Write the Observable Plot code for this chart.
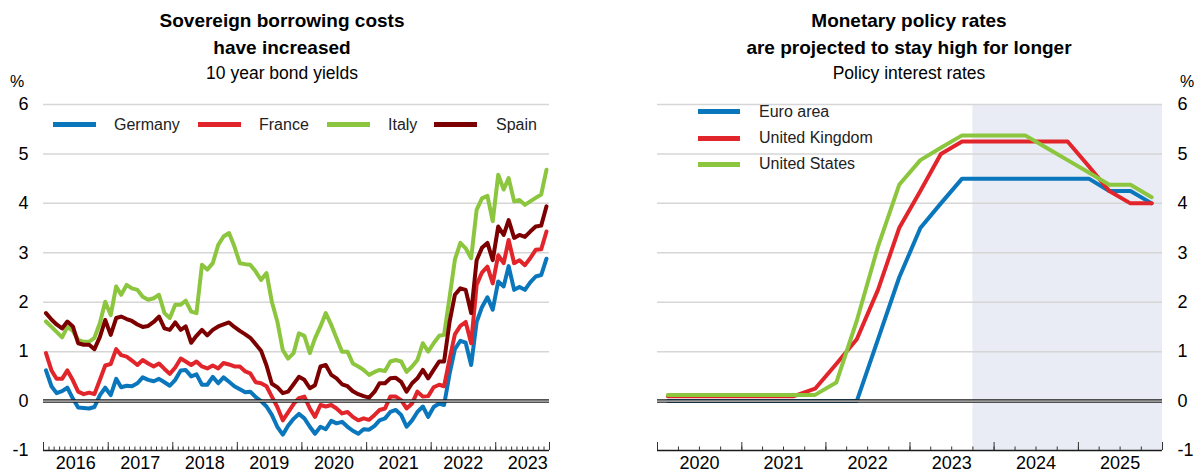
<!DOCTYPE html>
<html><head><meta charset="utf-8">
<script src="https://cdn.jsdelivr.net/npm/d3@7"></script>
<script src="https://cdn.jsdelivr.net/npm/@observablehq/plot@0.6"></script>
<style>
body{margin:0;background:#fff;font-family:"Liberation Sans",Arial,sans-serif;color:#000;}
#wrap{position:relative;width:1195px;height:472px;overflow:hidden;}
.t{position:absolute;text-align:center;white-space:nowrap;}
.title{font-weight:bold;font-size:19px;line-height:24px;}
.sub{font-size:17.5px;line-height:22px;}
.pct{position:absolute;font-size:16px;line-height:16px;}
.chart{position:absolute;top:90px;}
.lg{position:absolute;font-size:16px;line-height:18px;color:#222;white-space:nowrap;}
.sw{position:absolute;height:5px;width:43px;}
</style></head>
<body>
<div id="wrap">
  <div class="t title" style="left:0;width:564px;top:9px;">Sovereign borrowing costs</div>
  <div class="t title" style="left:0;width:564px;top:36px;">have increased</div>
  <div class="t sub" style="left:0;width:564px;top:62px;">10 year bond yields</div>
  <div class="pct" style="left:10px;top:74px;">%</div>

  <div class="t title" style="left:620px;width:578px;top:9px;">Monetary policy rates</div>
  <div class="t title" style="left:620px;width:578px;top:36px;">are projected to stay high for longer</div>
  <div class="t sub" style="left:620px;width:578px;top:62px;">Policy interest rates</div>
  <div class="pct" style="left:1180px;top:74px;">%</div>

  <div id="left" class="chart" style="left:0;"></div>
  <div id="right" class="chart" style="left:597px;"></div>
  <div id="legL"></div>
  <div id="legR"></div>
</div>
<script>
// ---------- Left chart data: 10 year bond yields, monthly Jan 2016 - Oct 2023 ----------
const bondSeries = ["Germany", "France", "Italy", "Spain"];
const bondColors = ["#0a76bc", "#e2242b", "#8cc63f", "#7d0000"];
const germany = [0.62,0.30,0.16,0.20,0.27,0.05,-0.13,-0.14,-0.15,-0.12,0.12,0.27,
  0.12,0.45,0.28,0.31,0.30,0.36,0.48,0.43,0.40,0.45,0.38,0.31,
  0.43,0.62,0.63,0.50,0.54,0.33,0.33,0.49,0.36,0.48,0.39,0.30,
  0.24,0.18,0.19,0.08,0.00,-0.11,-0.28,-0.52,-0.68,-0.50,-0.36,-0.26,
  -0.35,-0.52,-0.66,-0.52,-0.57,-0.40,-0.45,-0.42,-0.52,-0.60,-0.66,-0.57,
  -0.58,-0.50,-0.39,-0.35,-0.22,-0.18,-0.28,-0.52,-0.39,-0.22,-0.11,-0.32,
  -0.12,-0.05,-0.08,0.55,1.05,1.22,1.18,0.73,1.60,1.90,2.10,1.85,
  2.42,2.32,2.73,2.25,2.31,2.25,2.40,2.52,2.55,2.88];
const france = [0.97,0.62,0.45,0.45,0.62,0.42,0.19,0.14,0.17,0.14,0.43,0.72,
  0.75,1.05,0.93,0.90,0.82,0.73,0.83,0.76,0.70,0.76,0.65,0.55,
  0.68,0.86,0.80,0.73,0.80,0.70,0.66,0.72,0.66,0.77,0.74,0.70,
  0.70,0.60,0.56,0.38,0.36,0.30,0.09,-0.12,-0.39,-0.23,-0.06,0.06,
  0.09,-0.15,-0.32,-0.08,-0.11,-0.08,-0.15,-0.25,-0.22,-0.32,-0.39,-0.35,
  -0.38,-0.28,-0.18,-0.15,0.09,0.09,0.02,-0.15,-0.05,0.19,0.09,0.10,
  0.28,0.33,0.30,0.85,1.35,1.52,1.60,1.17,2.35,2.60,2.72,2.38,
  2.95,2.79,3.26,2.79,2.85,2.75,2.89,3.06,3.07,3.43];
const italy = [1.61,1.50,1.40,1.29,1.50,1.42,1.24,1.20,1.20,1.28,1.58,2.01,
  1.74,2.32,2.15,2.35,2.28,2.25,2.11,2.05,2.08,2.15,1.78,1.68,
  1.95,1.95,2.03,1.81,1.78,2.76,2.66,2.79,3.16,3.33,3.40,3.13,
  2.79,2.77,2.76,2.62,2.45,2.59,2.01,1.61,1.03,0.86,0.97,1.37,
  1.32,0.97,1.27,1.51,1.78,1.54,1.27,1.00,1.00,0.76,0.70,0.63,
  0.53,0.59,0.63,0.61,0.80,0.83,0.80,0.59,0.70,0.83,1.17,1.00,
  1.17,1.32,1.34,2.10,2.86,3.20,3.09,2.89,3.87,4.10,4.15,3.64,
  4.58,4.28,4.51,4.04,4.07,3.97,4.04,4.11,4.18,4.68];
const spain = [1.78,1.65,1.55,1.47,1.61,1.51,1.17,1.14,1.14,1.05,1.30,1.64,
  1.34,1.68,1.71,1.66,1.62,1.55,1.50,1.52,1.60,1.71,1.47,1.44,
  1.59,1.44,1.51,1.18,1.32,1.44,1.33,1.44,1.51,1.55,1.59,1.50,
  1.42,1.35,1.28,1.15,1.02,0.72,0.35,0.28,0.16,0.19,0.34,0.49,
  0.43,0.26,0.32,0.70,0.73,0.53,0.46,0.34,0.30,0.20,0.14,0.10,
  0.07,0.19,0.36,0.36,0.46,0.47,0.39,0.19,0.36,0.46,0.63,0.46,
  0.63,0.80,0.80,1.60,2.15,2.28,2.25,1.78,2.85,3.10,3.20,2.85,
  3.53,3.36,3.66,3.30,3.36,3.32,3.43,3.53,3.55,3.94];
const bondValues = [germany, france, italy, spain];
const leftYears = [2016, 2017, 2018, 2019, 2020, 2021, 2022, 2023];

// ---------- Right chart data: policy rates, quarterly 2020Q1 - 2025Q4 ----------
const rateSeries = ["Euro area", "United Kingdom", "United States"];
const rateColors = ["#0a76bc", "#e2242b", "#8cc63f"];
const euroArea = [0,0,0,0, 0,0,0,0, 0,0,1.25,2.5, 3.5,4.0,4.5,4.5, 4.5,4.5,4.5,4.5, 4.5,4.25,4.25,4.0];
const unitedKingdom = [0.1,0.1,0.1,0.1, 0.1,0.1,0.1,0.25, 0.75,1.25,2.25,3.5, 4.25,5.0,5.25,5.25, 5.25,5.25,5.25,5.25, 4.75,4.25,4.0,4.0];
const unitedStates = [0.125,0.125,0.125,0.125, 0.125,0.125,0.125,0.125, 0.375,1.625,3.125,4.375, 4.875,5.125,5.375,5.375, 5.375,5.375,5.125,4.875, 4.625,4.375,4.375,4.125];
const rateValues = [euroArea, unitedKingdom, unitedStates];
const rightYears = [2020, 2021, 2022, 2023, 2024, 2025];
const projectionStart = "2023-10-01";

const yTicks = [-1, 0, 1, 2, 3, 4, 5, 6];
const gridTicks = [1, 2, 3, 4, 5, 6];

// ---------- Build tables ----------
const bondRows = [];
bondSeries.forEach((name, k) => bondValues[k].forEach((v, i) =>
  bondRows.push({series: name, date: new Date(Date.UTC(2016, i, 15)), value: v})));
const rateRows = [];
rateSeries.forEach((name, k) => rateValues[k].forEach((v, i) =>
  rateRows.push({series: name, date: new Date(Date.UTC(2020, 3 * i + 1, 15)), value: v})));

const font = {fontFamily: '"Liberation Sans", Arial, sans-serif', fontSize: "18px", color: "#000", background: "transparent", overflow: "visible"};
const hyphenFormat = d => (d < 0 ? "-" + Math.abs(d) : String(d));

function chart({width, marginLeft, marginRight, xDomain, monthly, years, rows, names, colors, yAnchor, shade}) {
  const marks = [];
  if (shade) marks.push(Plot.rect([{x1: new Date(shade), x2: xDomain[1]}], {x1: "x1", x2: "x2", fill: "#e9ecf5"}));
  marks.push(
    Plot.ruleY(gridTicks, {stroke: "#d6d6d6", strokeWidth: 1.5}),
    Plot.axisY(yTicks, {anchor: yAnchor, tickSize: 0, tickPadding: 15, label: null, fontSize: 18, tickFormat: hyphenFormat}),
    Plot.lineY(rows, {x: "date", y: "value", z: "series", stroke: "series", strokeWidth: 4, strokeLinejoin: "round"}),
    Plot.ruleY([0], {stroke: "#1a1a1a", strokeWidth: 3.4}),
    Plot.ruleY([0], {stroke: "#ffffff", strokeWidth: 1}),
    Plot.ruleY([-1], {stroke: "#1a1a1a", strokeWidth: 1.5}),
    Plot.axisX(monthly, {tickSize: -3.5, tickFormat: () => "", label: null, stroke: "#333"}),
    Plot.axisX(years.map(y => new Date(Date.UTC(y, 0, 1))).concat([xDomain[1]]), {tickSize: -8, tickFormat: () => "", label: null, stroke: "#333"}),
    Plot.axisX(years.map(y => new Date(Date.UTC(y, 6, 1))), {tickSize: 0, tickPadding: 5.5, tickFormat: d3.utcFormat("%Y"), label: null, fontSize: 18})
  );
  return Plot.plot({
    width, height: 382, marginTop: 14, marginBottom: 22, marginLeft, marginRight,
    style: font,
    x: {type: "utc", domain: xDomain},
    y: {domain: [-1, 6]},
    color: {domain: names, range: colors},
    marks
  });
}

const leftEnd = new Date(Date.UTC(2023, 10, 1));
document.getElementById("left").append(chart({
  width: 597, marginLeft: 43, marginRight: 48,
  xDomain: [new Date(Date.UTC(2016, 0, 1)), leftEnd],
  monthly: d3.utcMonth.range(new Date(Date.UTC(2016, 0, 1)), leftEnd),
  years: leftYears, rows: bondRows, names: bondSeries, colors: bondColors, yAnchor: "left"
}));
const rightEnd = new Date(Date.UTC(2026, 0, 1));
document.getElementById("right").append(chart({
  width: 598, marginLeft: 60, marginRight: 33,
  xDomain: [new Date(Date.UTC(2020, 0, 1)), rightEnd],
  monthly: d3.utcMonth.every(3).range(new Date(Date.UTC(2020, 0, 1)), rightEnd),
  years: rightYears, rows: rateRows, names: rateSeries, colors: rateColors, yAnchor: "right",
  shade: projectionStart
}));

// ---------- Legends ----------
const legL = document.getElementById("legL");
const lxL = [53, 198, 327, 434], txL = [114, 259, 388, 496];
bondSeries.forEach((n, k) => {
  legL.insertAdjacentHTML("beforeend",
    `<div class="sw" style="left:${lxL[k]}px;top:122px;background:${bondColors[k]}"></div>` +
    `<div class="lg" style="left:${txL[k]}px;top:116px;">${n}</div>`);
});
const legR = document.getElementById("legR");
const lyR = [111.7, 138.3, 164.3];
rateSeries.forEach((n, k) => {
  legR.insertAdjacentHTML("beforeend",
    `<div class="sw" style="left:698px;width:42px;top:${lyR[k] - 2.5}px;background:${rateColors[k]}"></div>` +
    `<div class="lg" style="left:759px;top:${lyR[k] - 9}px;">${n}</div>`);
});
</script>
</body></html>
